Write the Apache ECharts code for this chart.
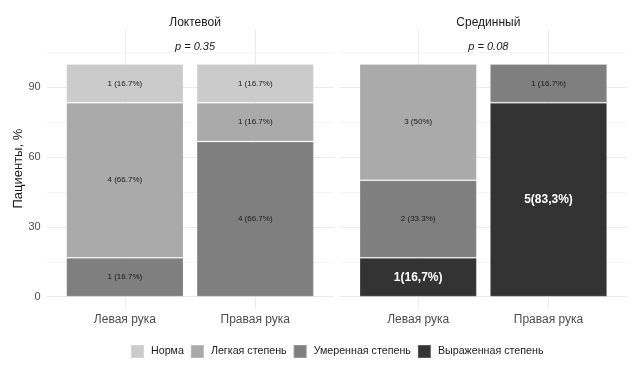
<!DOCTYPE html>
<html>
<head>
<meta charset="utf-8">
<script src="https://cdn.jsdelivr.net/npm/echarts@6/dist/echarts.min.js"></script>
<style>
  html, body { margin: 0; padding: 0; background: #fff; }
  #chart { width: 639px; height: 374px; }
</style>
</head>
<body>
<div id="chart"></div>
<script>
// facets and categories
const panels = ['Локтевой', 'Срединный'];
const pValues = ['0.35', '0.08'];
const hands = ['Левая рука', 'Правая рука'];

// severity levels, legend order
const levels = ['Норма', 'Легкая степень', 'Умеренная степень', 'Выраженная степень'];
const levelColors = ['#cbcbcb', '#aaaaaa', '#7f7f7f', '#333333'];

// patient counts per hand (Левая, Правая), n = 6 per bar
const countsUlnar = {
    'Норма': [1, 1],
    'Легкая степень': [4, 1],
    'Умеренная степень': [1, 4],
    'Выраженная степень': [0, 0]
};
const countsMedian = {
    'Норма': [0, 0],
    'Легкая степень': [3, 0],
    'Умеренная степень': [2, 1],
    'Выраженная степень': [1, 5]
};
const panelCounts = [countsUlnar, countsMedian];
const totals = [[6, 6], [6, 6]];

const yTicks = [0, 30, 60, 90];
const yMinor = [15, 45, 75, 105];
const fontFamily = "'Liberation Sans', Arial, sans-serif";

// panel geometry (px)
const panelLeft = [46.7, 340];
const panelWidth = 286.7;
const inset = 13;
const gridTop = 29, gridBottom = 65.7;

const chart = echarts.init(document.getElementById('chart'));

const grids = [], xAxes = [], yAxes = [], series = [], titles = [];

panels.forEach((name, p) => {
    const L = panelLeft[p];
    // background grid for gridlines
    grids.push({ left: L, width: panelWidth, top: gridTop, bottom: gridBottom });
    // bar grid
    grids.push({ left: L + inset, width: panelWidth - 2 * inset, top: gridTop, bottom: gridBottom });
    const bg = 2 * p, fg = 2 * p + 1;

    xAxes.push({
        gridIndex: bg, type: 'value', min: 0.4, max: 2.6, show: false
    });
    xAxes.push({
        gridIndex: fg, type: 'category', data: hands,
        axisLine: { show: false }, axisTick: { show: false },
        splitLine: { show: false },
        axisLabel: { color: '#4d4d4d', fontSize: 12, margin: 5, fontFamily }
    });
    yAxes.push({
        gridIndex: bg, type: 'value', min: -5, max: 115,
        name: p === 0 ? 'Пациенты, %' : '',
        nameLocation: 'middle', nameGap: 19, nameRotate: 90,
        nameTextStyle: { color: '#1a1a1a', fontSize: 13, fontFamily },
        axisLine: { show: false }, axisTick: { show: false },
        splitLine: { show: false },
        axisLabel: {
            show: p === 0, customValues: yTicks, color: '#4d4d4d',
            fontSize: 11, margin: 6, fontFamily
        }
    });
    yAxes.push({
        gridIndex: fg, type: 'value', min: -5, max: 115, show: false,
        splitLine: { show: false }
    });

    // gridlines, kept behind the bars
    series.push({
        type: 'line', xAxisIndex: bg, yAxisIndex: bg, data: [], z: 0, silent: true,
        markLine: {
            z: 0, silent: true, symbol: 'none', label: { show: false },
            animation: false,
            data: [
                ...yTicks.map(v => ({ yAxis: v, lineStyle: { color: '#ebebeb', width: 1, type: 'solid' } })),
                ...yMinor.map(v => ({ yAxis: v, lineStyle: { color: '#f5f5f5', width: 1, type: 'solid' } })),
                ...hands.map((h, i) => ({ xAxis: i + 1, lineStyle: { color: '#ebebeb', width: 1, type: 'solid' } }))
            ]
        }
    });

    // stacked bars, bottom level first
    const counts = panelCounts[p];
    for (let k = levels.length - 1; k >= 0; k--) {
        const lev = levels[k];
        const dark = k === levels.length - 1;
        series.push({
            name: lev, type: 'bar', stack: 'panel' + p, z: 3,
            xAxisIndex: fg, yAxisIndex: fg, barWidth: '90%',
            itemStyle: { color: levelColors[k], borderColor: 'rgba(255,255,255,0.2)', borderWidth: 1 },
            data: counts[lev].map((n, i) => n === 0 ? null : {
                value: n / totals[p][i] * 100, count: n
            }),
            label: {
                show: true, position: 'inside', fontFamily,
                color: dark ? '#ffffff' : '#1a1a1a',
                fontSize: dark ? 12 : 8,
                fontWeight: dark ? 'bold' : 'normal',
                formatter: (d) => {
                    const pct = Math.round(d.value * 10) / 10;
                    if (dark) return d.data.count + '(' + String(pct).replace('.', ',') + '%)';
                    return d.data.count + ' (' + pct + '%)';
                }
            }
        });
    }

    titles.push({
        text: name, left: L + panelWidth / 2, top: 12, textAlign: 'center',
        textStyle: { color: '#1a1a1a', fontSize: 12, fontWeight: 'normal', fontFamily }
    });
    titles.push({
        text: 'p = ' + pValues[p], left: L + panelWidth / 2, top: 36, textAlign: 'center',
        textStyle: { color: '#1a1a1a', fontSize: 11, fontWeight: 'normal', fontStyle: 'italic', fontFamily }
    });
});

chart.setOption({
    animation: false,
    color: levelColors,
    title: titles,
    grid: grids,
    xAxis: xAxes,
    yAxis: yAxes,
    legend: {
        data: levels,
        left: 130, top: 344, padding: 0,
        itemWidth: 13, itemHeight: 13, itemGap: 6,
        icon: 'rect',
        textStyle: { color: '#1a1a1a', fontSize: 10.7, fontFamily, padding: [0, 0, 0, 2] }
    },
    series: series
});
</script>
</body>
</html>
